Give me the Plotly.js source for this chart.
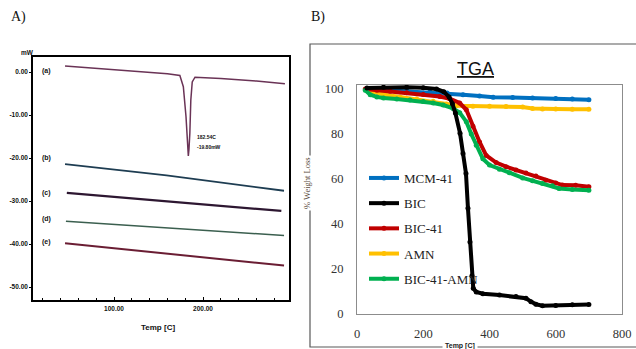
<!DOCTYPE html>
<html>
<head>
<meta charset="utf-8">
<script src="https://cdn.plot.ly/plotly-3.0.1.min.js"></script>
<style>html,body{margin:0;padding:0;background:#fff;}#chart{width:636px;height:349px;}</style>
</head>
<body>
<div id="chart"></div>
<script>
// ---------- Panel A : DSC ----------
const dscA_T = [45, 80, 120, 160, 174, 177.9, 180.9, 182.8, 183.5, 184.2, 185.2, 186.3, 187.9, 191, 220, 260, 292];
const dscA_Y = [1.4, 0.9, 0.3, -0.4, -0.8, -3.4, -10.4, -16.5, -19.5, -18, -14.2, -6.5, -2.3, -1.2, -1.5, -2.1, -2.7];
const dscB_T = [45, 159, 291];
const dscB_Y = [-21.4, -24.0, -27.6];
const dscC_T = [47, 288];
const dscC_Y = [-28.1, -32.3];
const dscD_T = [46, 291];
const dscD_Y = [-34.7, -38.0];
const dscE_T = [45, 291];
const dscE_Y = [-39.8, -45.0];
const dscYTicks = [0, -10, -20, -30, -40, -50];
const dscYTickText = ["0.00", "-10.00", "-20.00", "-30.00", "-40.00", "-50.00"];
const dscXTicks = [100, 200];
const dscXTickText = ["100.00", "200.00"];

// ---------- Panel B : TGA ----------
const tgaNames = ["MCM-41", "BIC", "BIC-41", "AMN", "BIC-41-AMN"];
const mcmT = [30, 80, 150, 220, 272, 320, 370, 411, 470, 530, 600, 650, 700];
const mcmW = [100, 99.6, 99.2, 98.7, 98.2, 97.5, 96.9, 96.4, 96.2, 96.0, 95.8, 95.6, 95.2];
const bicT = [30, 80, 150, 200, 240, 262, 278, 288, 297, 311, 320, 329, 335, 341, 347, 351, 360, 380, 430, 480, 510, 525, 540, 560, 600, 650, 700];
const bicW = [100.5, 100.8, 100.8, 100.6, 100, 98.8, 96.5, 93.5, 89.3, 80.4, 71.4, 62.5, 47, 32, 17, 11.4, 9.8, 9.0, 8.4, 7.8, 7.0, 5.5, 4.3, 3.7, 3.8, 4.1, 4.2];
const bic41T = [25, 60, 100, 150, 200, 250, 280, 310, 330, 350, 370, 390, 420, 450, 480, 510, 540, 570, 600, 620, 660, 700];
const bic41W = [100, 99.5, 99, 98.3, 97.6, 96.7, 95.7, 93.8, 90.8, 83.5, 76.5, 70.5, 67.3, 65.5, 64.0, 62.7, 61.3, 59.5, 58.2, 57.3, 57.2, 56.6];
const amnT = [30, 50, 80, 130, 180, 230, 270, 300, 350, 400, 450, 500, 530, 560, 600, 650, 700];
const amnW = [100, 98.8, 97.6, 96.5, 95.6, 94.6, 93.4, 92.6, 92.4, 92.3, 92.2, 92.0, 91.4, 91.1, 91.1, 91.0, 91.0];
const bamT = [25, 40, 60, 80, 120, 160, 200, 230, 260, 290, 310, 330, 345, 360, 380, 400, 430, 460, 500, 530, 560, 590, 610, 650, 700];
const bamW = [99.5, 97.5, 96.5, 96.0, 95.6, 95.1, 94.5, 93.8, 92.9, 91.4, 89.5, 85.5, 80, 75, 69, 66.2, 64.3, 62.8, 60.5, 59.2, 58.0, 57.0, 55.8, 55.4, 55.0];
const tgaXTicks = [0, 200, 400, 600, 800];
const tgaYTicks = [0, 20, 40, 60, 80, 100];

const W = 636, H = 349;
const px = v => v / W;
const py = v => 1 - v / H;

const dscFont = {family: "Liberation Sans Narrow, Liberation Sans, Arial", size: 6.5, color: "#111"};

function dscTrace(x, y, color, width) {
  return {x: x, y: y, xaxis: "x", yaxis: "y", type: "scatter", mode: "lines",
          line: {color: color, width: width}, showlegend: false, hoverinfo: "skip"};
}
function tgaTrace(x, y, name, color) {
  return {x: x, y: y, xaxis: "x2", yaxis: "y2", type: "scatter", mode: "lines+markers", name: name,
          legendgroup: name,
          line: {color: color, width: 4}, marker: {color: color, size: 5}};
}

const data = [
  dscTrace(dscA_T, dscA_Y, "#6a3356", 1.5),
  dscTrace(dscB_T, dscB_Y, "#1e3d52", 1.8),
  dscTrace(dscC_T, dscC_Y, "#2d1731", 2.2),
  dscTrace(dscD_T, dscD_Y, "#3b5f4f", 1.5),
  dscTrace(dscE_T, dscE_Y, "#6a1d33", 2),
  tgaTrace(mcmT, mcmW, tgaNames[0], "#0070C0"),
  tgaTrace(amnT, amnW, tgaNames[3], "#FFC000"),
  tgaTrace(bic41T, bic41W, tgaNames[2], "#C00000"),
  tgaTrace(bamT, bamW, tgaNames[4], "#00B050"),
  tgaTrace(bicT, bicW, tgaNames[1], "#000000")
];
// legend order
data[5].legendrank = 1; data[9].legendrank = 2; data[7].legendrank = 3; data[6].legendrank = 4; data[8].legendrank = 5;

const ann = [];
function addAnn(o) { ann.push(Object.assign({showarrow: false}, o)); }
addAnn({text: "A)", xref: "paper", yref: "paper", x: px(9), y: py(17), xanchor: "left", yanchor: "middle",
        font: {family: "Liberation Serif", size: 14, color: "#111"}});
addAnn({text: "B)", xref: "paper", yref: "paper", x: px(309), y: py(17), xanchor: "left", yanchor: "middle",
        font: {family: "Liberation Serif", size: 14, color: "#111"}});
addAnn({text: "<b>mW</b>", xref: "paper", yref: "paper", x: px(27), y: py(52), xanchor: "center", yanchor: "middle", font: dscFont});
const curveLabels = ["(a)", "(b)", "(c)", "(d)", "(e)"];
const curveLabelY = [71, 158, 193, 219, 242];
curveLabels.forEach((t, i) => addAnn({text: "<b>" + t + "</b>", xref: "paper", yref: "paper", x: px(46), y: py(curveLabelY[i]),
  xanchor: "center", yanchor: "middle", font: {family: dscFont.family, size: 7, color: "#111"}}));
addAnn({text: "<b>182.54C</b>", xref: "x", yref: "y", x: 190.5, y: -15.2, xanchor: "left", yanchor: "middle",
        font: {family: dscFont.family, size: 5, color: "#111"}});
addAnn({text: "<b>-19.80mW</b>", xref: "x", yref: "y", x: 190.5, y: -17.4, xanchor: "left", yanchor: "middle",
        font: {family: dscFont.family, size: 5, color: "#111"}});
addAnn({text: "<b>Temp [C]</b>", xref: "paper", yref: "paper", x: px(158), y: py(327), xanchor: "center", yanchor: "middle",
        font: {family: dscFont.family, size: 8, color: "#111"}});
addAnn({text: "<u>TGA</u>", xref: "paper", yref: "paper", x: px(475), y: py(69), xanchor: "center", yanchor: "middle",
        font: {family: "Liberation Sans, Arial", size: 18, color: "#111"}});
addAnn({text: "% Weight Loss", xref: "paper", yref: "paper", x: px(307), y: py(183), xanchor: "center", yanchor: "middle",
        textangle: -90, bgcolor: "#fff", font: {family: "Liberation Serif", size: 8.5, color: "#5b4b3b"}});
addAnn({text: "<b>Temp [C]</b>", xref: "paper", yref: "paper", x: px(460), y: py(346), xanchor: "center", yanchor: "middle",
        bgcolor: "#fff", borderpad: 2, font: {family: "Liberation Sans Narrow, Liberation Sans", size: 7, color: "#222"}});

const layout = {
  width: W, height: H,
  margin: {l: 0, r: 0, t: 0, b: 0, pad: 0},
  paper_bgcolor: "#fff", plot_bgcolor: "rgba(0,0,0,0)",
  showlegend: true,
  legend: {x: px(364), y: py(163), xanchor: "left", yanchor: "top", traceorder: "grouped", tracegroupgap: 5.3,
           bgcolor: "rgba(0,0,0,0)", borderwidth: 0, itemwidth: 30,
           font: {family: "Liberation Serif", size: 13, color: "#222"}},
  xaxis: {domain: [px(33), px(289)], anchor: "y", range: [9, 296.6], showgrid: false, zeroline: false,
          showline: true, mirror: true, linecolor: "#000", linewidth: 1.8,
          tickmode: "array", tickvals: dscXTicks, ticktext: dscXTickText, ticks: "inside", ticklen: 3, tickcolor: "#000",
          minor: {dtick: 20, tick0: 0, ticks: "inside", ticklen: 2, tickcolor: "#000", showgrid: false},
          tickfont: {family: dscFont.family, size: 6.5, color: "#111", weight: "bold"}, ticklabelstandoff: 1},
  yaxis: {domain: [py(300), py(57)], anchor: "x", range: [-53.0, 3.5], showgrid: false, zeroline: false,
          showline: true, mirror: true, linecolor: "#000", linewidth: 1.8,
          tickmode: "array", tickvals: dscYTicks, ticktext: dscYTickText, ticks: "outside", ticklen: 2, tickcolor: "#000",
          tickfont: {family: dscFont.family, size: 6.5, color: "#111", weight: "bold"}, ticklabelstandoff: 0},
  xaxis2: {domain: [px(357), px(622)], anchor: "y2", range: [0, 800], showgrid: false, zeroline: false,
           showline: true, mirror: true, linecolor: "#8c8c8c", linewidth: 1,
           tickmode: "array", tickvals: tgaXTicks, ticks: "", ticklabelstandoff: 8,
           tickfont: {family: "Liberation Serif", size: 12.5, color: "#333"}},
  yaxis2: {domain: [py(314), py(85)], anchor: "x2", range: [0, 101.8], showgrid: false, zeroline: false,
           showline: true, mirror: true, linecolor: "#8c8c8c", linewidth: 1,
           tickmode: "array", tickvals: tgaYTicks, ticks: "", ticklabelstandoff: 10,
           tickfont: {family: "Liberation Serif", size: 12.5, color: "#333"}},
  shapes: [
    {type: "rect", xref: "paper", yref: "paper", x0: px(310), x1: 1.02, y0: py(347), y1: py(44),
     line: {color: "#595959", width: 1.2}, fillcolor: "rgba(0,0,0,0)", layer: "below"}
  ],
  annotations: ann
};

Plotly.newPlot("chart", data, layout, {staticPlot: true, displayModeBar: false});
</script>
</body>
</html>
